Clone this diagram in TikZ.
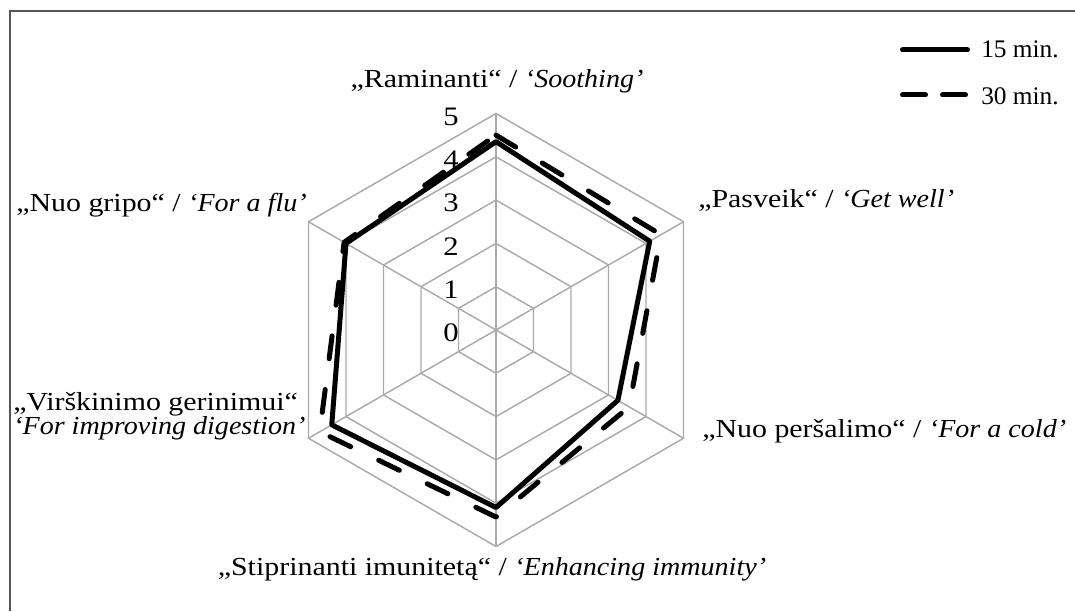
\documentclass[tikz,border=0pt]{standalone}
\usepackage{fontspec}
\setmainfont{Liberation Serif}[UprightFeatures={FakeStretch=1.15},ItalicFeatures={FakeStretch=1.08}]
\newfontfamily\legendfont{Liberation Serif}
\begin{document}
\begin{tikzpicture}[x=0.75pt,y=0.75pt,
  gridline/.style={draw=gridgray, line width=1.1pt, line join=miter},
  series/.style={draw=black, line width=3.75pt, line join=round, line cap=round},
  dashseries/.style={series, dash pattern=on 17.25pt off 23.25pt},
  axlabel/.style={font=\fontsize{19.5}{23}\selectfont, inner sep=0pt},
  ticklabel/.style={font=\fontsize{20}{24}\selectfont, inner sep=0pt, anchor=east},
  legtext/.style={font=\legendfont\fontsize{19}{22}\selectfont, inner sep=0pt, anchor=base west}]
\definecolor{gridgray}{RGB}{170,170,170}
\definecolor{framegray}{RGB}{85,85,85}
\useasboundingbox (0,0) rectangle (1075,611);
\fill[white] (0,0) rectangle (1075,611);
\draw[framegray, line width=1.5pt] (1075,600) -- (9.5,600) -- (9.5,0);
\def\u{43.3}
\begin{scope}[shift={(496,281)}]
  \coordinate (O) at (0,0);
  % rings
  \foreach \k in {1,...,5}
    \draw[gridline] (90:{\k*\u}) -- (30:{\k*\u}) -- (-30:{\k*\u}) -- (-90:{\k*\u}) -- (-150:{\k*\u}) -- (150:{\k*\u}) -- cycle;
  % spokes
  \foreach \a in {90,30,-30,-90,-150,150}
    \draw[gridline] (O) -- (\a:{5*\u});
  % tick labels
  \foreach \k in {0,...,5}
    \node[ticklabel] (t\k) at (-37,{\k*\u-3}) {\k};
  % 30 min series
  \coordinate (d1) at (90:{4.5*\u});
  \coordinate (d2) at (30:{4.4*\u});
  \coordinate (d3) at (-30:{3.55*\u});
  \coordinate (d4) at (-90:{4.32*\u});
  \coordinate (d5) at (-150:{4.7*\u});
  \coordinate (d6) at (150:{4.05*\u});
  \draw[dashseries] (d1) -- (d2) -- (d3) -- (d4) -- (d5) -- (d6) -- cycle;
  % 15 min series
  \coordinate (s1) at (90:{4.35*\u});
  \coordinate (s2) at (30:{4.1*\u});
  \coordinate (s3) at (-30:{3.25*\u});
  \coordinate (s4) at (-90:{4.1*\u});
  \coordinate (s5) at (-150:{4.38*\u});
  \coordinate (s6) at (150:{4.0*\u});
  \draw[series] (s1) -- (s2) -- (s3) -- (s4) -- (s5) -- (s6) -- cycle;
\end{scope}
% axis labels
\node[axlabel, anchor=base] (l1) at (497,523) {„Raminanti“ / \textit{‘Soothing’}};
\node[axlabel, anchor=base west] (l2) at (698,403) {„Pasveik“ / \textit{‘Get well’}};
\node[axlabel, anchor=base west] (l3) at (702,173) {„Nuo peršalimo“ / \textit{‘For a cold’}};
\node[axlabel, anchor=base] (l4) at (492,36) {„Stiprinanti imunitetą“ / \textit{‘Enhancing immunity’}};
\node[axlabel, anchor=base west] (l5a) at (13,200) {„Virškinimo gerinimui“};
\node[axlabel, anchor=base west] (l5b) at (13,176) {\textit{‘For improving digestion’}};
\node[axlabel, anchor=base east] (l6) at (307,399) {„Nuo gripo“ / \textit{‘For a flu’}};
% legend
\coordinate (la) at (902.5,561);
\coordinate (lb) at (967.5,561);
\draw[series] (la) -- (lb);
\node[legtext] (leg1) at (981,553) {15 min.};
\coordinate (lc) at (902.5,516);
\coordinate (ld) at (965.5,516);
\draw[series, dash pattern=on 17.25pt off 12.75pt] (lc) -- (ld);
\node[legtext] (leg2) at (981,506) {30 min.};
\end{tikzpicture}
\end{document}
